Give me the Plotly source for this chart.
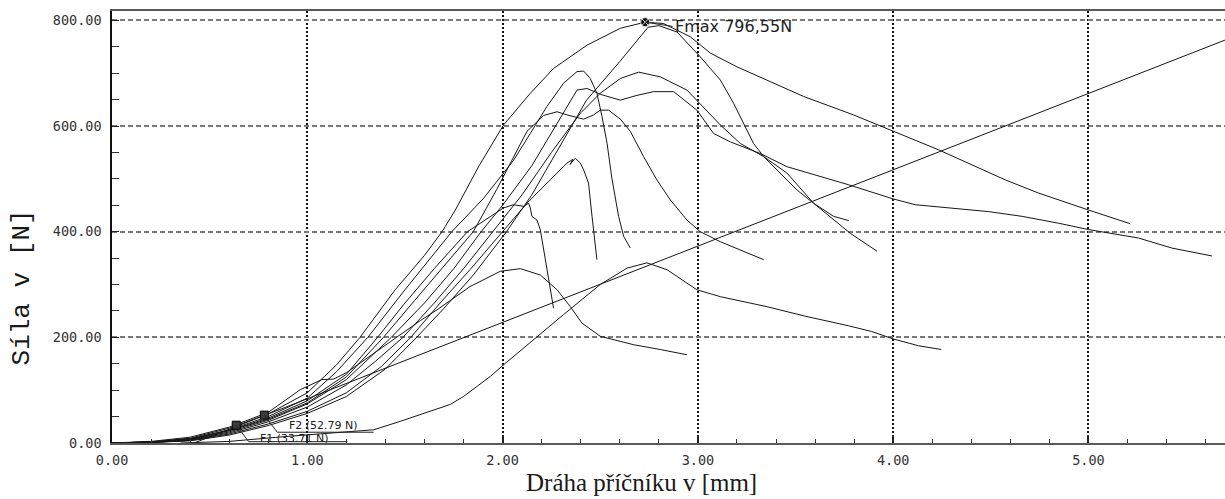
import plotly.graph_objects as go

# Crosshead travel [mm] and force [N] recorded for each specimen
dist_1 = [0.0, 0.2, 0.4, 0.6, 0.8, 1.0, 1.15, 1.27, 1.45, 1.6, 1.69, 1.758, 1.88, 2.005, 2.142, 2.261,
          2.432, 2.603, 2.73, 2.824, 2.961, 3.064, 3.2, 3.354, 3.541, 3.797, 4.0, 4.232, 4.574, 4.745, 5.0, 5.214]
force_1 = [0, 2, 9, 28, 55, 95, 148, 200, 290, 355, 400, 441, 525, 602, 662, 709,
           753, 785, 796.55, 794, 769, 738, 712, 687, 656, 621, 590, 555, 498, 473, 441, 415]

dist_2 = [0.0, 0.2, 0.4, 0.6, 0.8, 1.0, 1.2, 1.4, 1.56, 1.7, 1.85, 2.02, 2.15, 2.3, 2.43, 2.6, 2.745, 2.8,
          2.893, 3.012, 3.115, 3.183, 3.234, 3.285, 3.337, 3.405, 3.507, 3.592, 3.695, 3.772]
force_2 = [0, 1, 4, 15, 33, 56, 88, 140, 200, 255, 318, 400, 470, 565, 649, 722, 787, 790,
           778, 731, 687, 643, 605, 567, 542, 517, 479, 454, 429, 421]

dist_3 = [0.0, 0.2, 0.4, 0.6, 0.8, 1.0, 1.15, 1.31, 1.5, 1.62, 1.74, 1.9, 1.98, 2.056, 2.142, 2.227, 2.312,
          2.381, 2.415, 2.449, 2.483, 2.509, 2.535, 2.56, 2.594, 2.62, 2.654]
force_3 = [0, 2, 8, 25, 50, 85, 135, 200, 290, 345, 400, 462, 500, 535, 586, 637, 681,
           703, 704, 690, 662, 618, 567, 500, 429, 391, 369]

dist_4 = [0.0, 0.2, 0.4, 0.6, 0.8, 1.0, 1.2, 1.35, 1.49, 1.65, 1.8, 1.95, 2.1, 2.25, 2.4, 2.5, 2.603, 2.697,
          2.808, 2.944, 3.115, 3.217, 3.337, 3.456, 3.592, 3.78, 3.917]
force_4 = [0, 1, 5, 19, 40, 68, 110, 155, 200, 265, 330, 400, 470, 550, 625, 662, 690, 702,
           693, 668, 602, 567, 542, 511, 454, 397, 363]

dist_5 = [0.0, 0.2, 0.4, 0.6, 0.8, 1.0, 1.2, 1.43, 1.6, 1.75, 1.89, 2.0, 2.15, 2.28, 2.381, 2.432, 2.509,
          2.603, 2.688, 2.773, 2.876, 2.995, 3.08, 3.166, 3.319, 3.456, 3.77, 4.0, 4.113, 4.488, 4.66,
          4.847, 5.0, 5.256, 5.427, 5.632]
force_5 = [0, 1, 6, 21, 43, 74, 120, 200, 265, 330, 400, 450, 525, 605, 668, 671, 659,
           649, 658, 665, 665, 630, 586, 570, 548, 523, 489, 462, 451, 438, 429,
           416, 404, 388, 369, 354]

dist_6 = [0.0, 0.2, 0.4, 0.6, 0.8, 1.0, 1.2, 1.39, 1.55, 1.7, 1.85, 1.97, 2.06, 2.125, 2.21, 2.279, 2.33,
          2.415, 2.466, 2.5, 2.543, 2.603, 2.654, 2.722, 2.79, 2.859, 2.944, 3.012, 3.115, 3.217, 3.337]
force_6 = [0, 2, 7, 23, 45, 76, 125, 200, 270, 335, 400, 480, 545, 590, 620, 627, 621,
           613, 621, 630, 630, 613, 590, 542, 498, 460, 422, 400, 381, 366, 347]

dist_7 = [0.0, 0.2, 0.4, 0.6, 0.8, 1.0, 1.2, 1.36, 1.5, 1.65, 1.82, 1.937, 2.005, 2.056, 2.108, 2.133,
          2.142, 2.15, 2.176, 2.193, 2.21, 2.236, 2.253, 2.261]
force_7 = [0, 2, 7, 24, 47, 80, 130, 200, 265, 330, 400, 429, 445, 451, 448, 454,
           445, 429, 422, 404, 366, 303, 271, 255]

dist_8 = [0.0, 0.2, 0.4, 0.6, 0.8, 1.0, 1.2, 1.38, 1.53, 1.68, 1.833, 2.0, 2.125, 2.244, 2.33, 2.36,
          2.345, 2.372, 2.398, 2.415, 2.44, 2.458, 2.475, 2.483]
force_8 = [0, 1, 5, 17, 36, 60, 95, 145, 200, 265, 328, 400, 454, 498, 530, 537,
           527, 539, 530, 517, 492, 429, 378, 347]

dist_9 = [0.0, 0.2, 0.4, 0.6, 0.8, 0.964, 1.075, 1.135, 1.2, 1.35, 1.46, 1.58, 1.664, 1.833, 1.988,
          2.091, 2.193, 2.279, 2.347, 2.406, 2.5, 2.671, 2.807, 2.944]
force_9 = [0, 3, 11, 30, 58, 101, 120, 121, 133, 172, 200, 232, 252, 296, 325,
           330, 318, 290, 258, 227, 202, 186, 177, 167]

dist_10 = [0.35, 0.6, 0.88, 1.1, 1.34, 1.476, 1.579, 1.732, 1.8, 1.937, 2.005, 2.159, 2.312, 2.5, 2.637,
           2.739, 2.842, 2.995, 3.115, 3.354, 3.55, 3.77, 3.89, 4.0, 4.13, 4.246]
force_10 = [0, 3, 12, 18, 25, 41, 54, 73, 88, 126, 148, 196, 243, 300, 331,
            341, 328, 290, 277, 258, 240, 222, 211, 197, 184, 177]

# Straight reference line
line_dist = [0.42, 5.75]
line_force = [0, 770]

# Marked points
f1_dist, f1_force = 0.636, 33.71
f2_dist, f2_force = 0.78, 52.79
fmax_dist, fmax_force = 2.73, 796.55

# Axis ticks
x_ticks = [0, 1, 2, 3, 4, 5]
x_tick_text = ["0.00", "1.00", "2.00", "3.00", "4.00", "5.00"]
y_ticks = [0, 200, 400, 600, 800]
y_tick_text = ["0.00", "200.00", "400.00", "600.00", "800.00"]

curves = [
    (dist_1, force_1), (dist_2, force_2), (dist_3, force_3), (dist_4, force_4),
    (dist_5, force_5), (dist_6, force_6), (dist_7, force_7), (dist_8, force_8),
    (dist_9, force_9), (dist_10, force_10), (line_dist, line_force),
]

fig = go.Figure()
for xs, ys in curves:
    fig.add_trace(go.Scatter(
        x=xs, y=ys, mode="lines",
        line=dict(color="#161616", width=1),
        hoverinfo="skip", showlegend=False,
    ))

# F1 / F2 markers
fig.add_trace(go.Scatter(
    x=[f1_dist, f2_dist], y=[f1_force, f2_force], mode="markers",
    marker=dict(symbol="square", size=8, color="#3a3a3a", line=dict(color="#000", width=1)),
    showlegend=False, hoverinfo="skip",
))
# Fmax marker
fig.add_trace(go.Scatter(
    x=[fmax_dist], y=[fmax_force], mode="markers",
    marker=dict(symbol="circle-x", size=9, color="#111", line=dict(color="#ddd", width=1)),
    showlegend=False, hoverinfo="skip",
))

label_font = dict(family="DejaVu Sans", size=11, color="#222")
annotations = [
    dict(x=fmax_dist + 0.145, y=fmax_force - 8, xref="x", yref="y",
         text=f"Fmax {fmax_force:.2f}N".replace(".", ","),
         showarrow=False, xanchor="left", yanchor="middle",
         font=dict(family="DejaVu Sans", size=16, color="#222")),
    dict(x=0.90, y=33, xref="x", yref="y", text=f"F2 ({f2_force:.2f} N)",
         showarrow=False, xanchor="left", yanchor="middle", font=label_font, borderpad=0),
    dict(x=0.755, y=9, xref="x", yref="y", text=f"F1 ({f1_force:.2f} N)",
         showarrow=False, xanchor="left", yanchor="middle", font=label_font, borderpad=0),
    dict(x=-0.08, y=0.36, xref="paper", yref="paper", text="Síla v [N]",
         textangle=-90, showarrow=False, xanchor="center", yanchor="middle",
         font=dict(family="Liberation Mono", size=26, color="#1a1a1a")),
    dict(x=0.4757, y=-0.0915, xref="paper", yref="paper", text="Dráha příčníku v [mm]",
         showarrow=False, xanchor="center", yanchor="middle",
         font=dict(family="Liberation Serif", size=25, color="#1a1a1a")),
]

leader = dict(color="#222", width=1)
shapes = [
    # callout lines for the marked points
    dict(type="line", xref="x", yref="y", x0=fmax_dist, y0=fmax_force,
         x1=fmax_dist + 0.14, y1=fmax_force - 8, line=leader),
    dict(type="line", xref="x", yref="y", x0=f2_dist, y0=f2_force, x1=0.846, y1=20.4, line=leader),
    dict(type="line", xref="x", yref="y", x0=0.846, y0=20.4, x1=1.34, y1=20.4, line=leader),
    dict(type="line", xref="x", yref="y", x0=f1_dist, y0=f1_force, x1=0.70, y1=2.5, line=leader),
    dict(type="line", xref="x", yref="y", x0=0.70, y0=2.5, x1=1.205, y1=2.5, line=leader),
]

tick_font = dict(family="DejaVu Sans Mono", size=13.5, color="#333")

fig.update_layout(
    width=1225, height=499,
    margin=dict(l=112, r=0, t=11, b=56),
    paper_bgcolor="white", plot_bgcolor="white",
    showlegend=False,
    annotations=annotations,
    shapes=shapes,
    xaxis=dict(
        range=[0, 5.699], tickvals=x_ticks, ticktext=x_tick_text,
        ticks="inside", ticklen=8, tickwidth=1.5, tickcolor="#222",
        minor=dict(dtick=0.2, tick0=0, ticks="inside", ticklen=4, tickwidth=1.2,
                   tickcolor="#333", showgrid=False),
        showline=True, linecolor="#5a5a5a", linewidth=2, mirror=True,
        showgrid=True, gridcolor="#111", gridwidth=1.5, griddash="2px,2px",
        zeroline=False, tickfont=tick_font, ticklabelstandoff=4,
    ),
    yaxis=dict(
        range=[0, 817.7], tickvals=y_ticks, ticktext=y_tick_text,
        ticks="inside", ticklen=7, tickwidth=1.2, tickcolor="#222",
        minor=dict(dtick=50, tick0=0, ticks="inside", ticklen=7, tickwidth=1.2,
                   tickcolor="#333", showgrid=False),
        showline=True, linecolor="#111", linewidth=1.5, mirror=False,
        showgrid=True, gridcolor="#7a7a7a", gridwidth=1.5, griddash="5px,3px",
        zeroline=False, tickfont=tick_font, ticklabelstandoff=6,
    ),
)

fig.write_html("out.html")
